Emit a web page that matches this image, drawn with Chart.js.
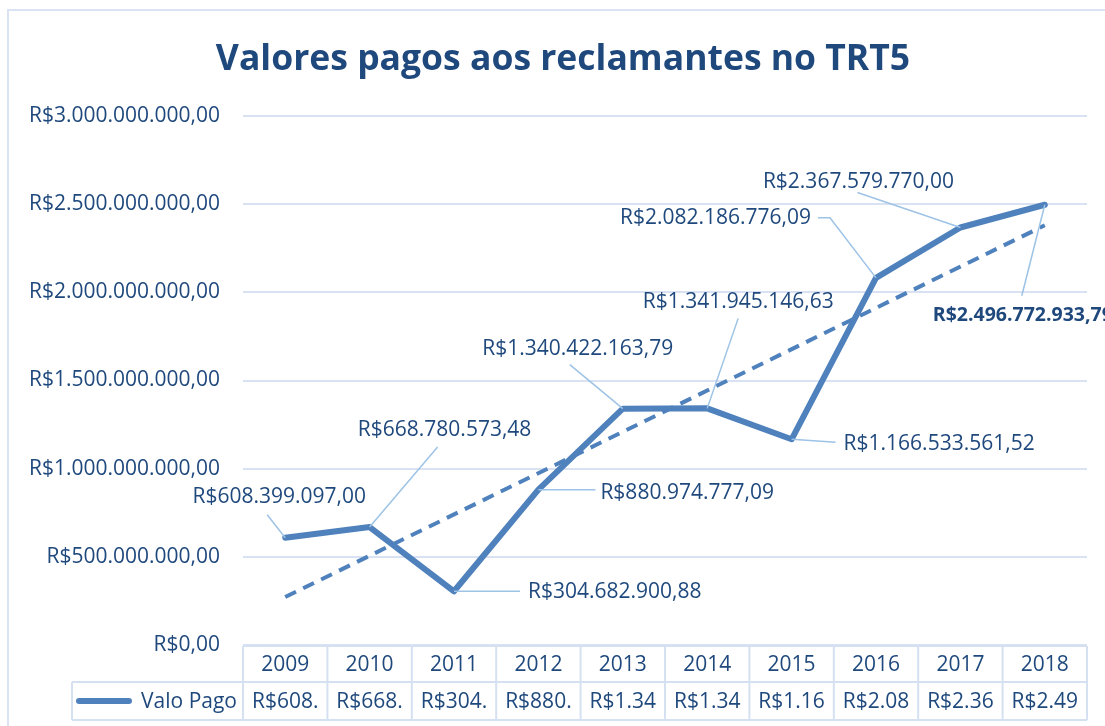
<!DOCTYPE html>
<html lang="pt-BR">
<head>
<meta charset="utf-8">
<title>Valores pagos aos reclamantes no TRT5</title>
<script src="https://cdn.jsdelivr.net/npm/chart.js@4.4.1/dist/chart.umd.min.js"></script>
<style>
    html, body { margin: 0; padding: 0; background: #ffffff; }
    #wrap { width: 1105px; height: 726px; }
</style>
</head>
<body>
<div id="wrap"><canvas id="valoresChart" width="1105" height="726"></canvas></div>
<script>
// dados
const anos = ['2009', '2010', '2011', '2012', '2013', '2014', '2015', '2016', '2017', '2018'];
const valoresPagos = [608399097.00, 668780573.48, 304682900.88, 880974777.09, 1340422163.79,
                      1341945146.63, 1166533561.52, 2082186776.09, 2367579770.00, 2496772933.79];
// linha de tendência (pontas: 2009 e 2018)
const tendencia = [272000000, 2380000000];
const eixoY = { min: 0, max: 3000000000, passo: 500000000 };
const nomeSerie = 'Valo Pago';
const titulo = 'Valores pagos aos reclamantes no TRT5';

// cores
const azulLinha = '#4f81bd';
const azulTexto = '#1f497d';
const azulGrade = '#d9e2f3';
const azulGuia = '#9dc3e6';
const fonte = "'Open Sans', 'Noto Sans', sans-serif";
const tamTexto = 21;

// formata como R$1.234.567,89
function moeda(v) {
    const partes = v.toFixed(2).split('.');
    const inteiro = partes[0].replace(/\B(?=(\d{3})+(?!\d))/g, '.');
    return 'R$' + inteiro + ',' + partes[1];
}

// serie de tendência: só as duas pontas, o resto fica vazio
const serieTendencia = anos.map(() => null);
serieTendencia[0] = tendencia[0];
serieTendencia[anos.length - 1] = tendencia[1];

// posição dos rótulos em relação ao ponto (px)
const layoutRotulos = [
    { dx: -6,   dy: -41, align: 'center', guia: [[-18, -23]] },
    { dx: 75,   dy: -97, align: 'center', guia: [[68, -80]] },
    { dx: 74,   dy: 1,   align: 'left',   guia: [[66, 0]] },
    { dx: 62,   dy: 3,   align: 'left',   guia: [[57, 0]] },
    { dx: -45,  dy: -60, align: 'center', guia: [[-53, -44]] },
    { dx: 31,   dy: -106, align: 'center', guia: [[31, -90]] },
    { dx: 52,   dy: 5,   align: 'left',   guia: [[44, 3]] },
    { dx: -65,  dy: -60, align: 'right',  guia: [[-46, -60], [-58, -60]] },
    { dx: -102, dy: -46, align: 'center', guia: [[-103, -35]] },
    { dx: -112, dy: 111, align: 'left',   guia: [[-23, 91]], negrito: true }
];

// fundo, moldura e título
const molduraPlugin = {
    id: 'moldura',
    beforeDraw(chart) {
        const ctx = chart.ctx;
        ctx.save();
        ctx.fillStyle = '#ffffff';
        ctx.fillRect(0, 0, chart.width, chart.height);
        ctx.strokeStyle = '#dae3f3';
        ctx.lineWidth = 2;
        ctx.strokeRect(8, 10, 1120, 760);
        ctx.fillStyle = azulTexto;
        ctx.font = 'bold 35.5px ' + fonte;
        ctx.textAlign = 'center';
        ctx.textBaseline = 'middle';
        ctx.fillText(titulo, 563, 60);
        ctx.restore();
    }
};

// rótulos com linhas guia
const rotulosPlugin = {
    id: 'rotulos',
    afterDatasetsDraw(chart) {
        const ctx = chart.ctx;
        const meta = chart.getDatasetMeta(0);
        ctx.save();
        meta.data.forEach((pt, i) => {
            const cfg = layoutRotulos[i];
            ctx.strokeStyle = azulGuia;
            ctx.lineWidth = 1.5;
            ctx.beginPath();
            ctx.moveTo(pt.x, pt.y);
            cfg.guia.forEach(g => ctx.lineTo(pt.x + g[0], pt.y + g[1]));
            ctx.stroke();

            ctx.fillStyle = azulTexto;
            ctx.font = cfg.negrito ? 'bold 19.5px ' + fonte : tamTexto + 'px ' + fonte;
            ctx.textAlign = cfg.align;
            ctx.textBaseline = 'middle';
            ctx.fillText(moeda(valoresPagos[i]), pt.x + cfg.dx, pt.y + cfg.dy);
        });
        ctx.restore();
    }
};

// tabela de dados embaixo do gráfico
const tabelaPlugin = {
    id: 'tabela',
    afterDraw(chart) {
        const ctx = chart.ctx;
        const area = chart.chartArea;
        const n = anos.length;
        const larg = (area.right - area.left) / n;
        const y0 = area.bottom + 1, y1 = y0 + 36, y2 = y1 + 38;
        const legEsq = 72;

        ctx.save();
        ctx.strokeStyle = '#d5e1f1';
        ctx.lineWidth = 2;
        ctx.beginPath();
        ctx.moveTo(area.left, y0); ctx.lineTo(area.right, y0);
        ctx.moveTo(legEsq, y1); ctx.lineTo(area.right, y1);
        ctx.moveTo(legEsq, y2); ctx.lineTo(area.right, y2);
        ctx.moveTo(legEsq, y1); ctx.lineTo(legEsq, y2);
        for (let i = 0; i <= n; i++) {
            const x = area.left + i * larg;
            ctx.moveTo(x, y0); ctx.lineTo(x, y2);
        }
        ctx.stroke();

        ctx.fillStyle = azulTexto;
        ctx.font = tamTexto + 'px ' + fonte;
        ctx.textAlign = 'center';
        ctx.textBaseline = 'middle';
        for (let i = 0; i < n; i++) {
            const cx = area.left + (i + 0.5) * larg;
            ctx.fillText(anos[i], cx, (y0 + y1) / 2 + 1);
            // texto cortado como no Excel
            const txt = moeda(valoresPagos[i]);
            let k = txt.length;
            while (k > 1 && ctx.measureText(txt.slice(0, k)).width > larg - 10) k--;
            ctx.fillText(txt.slice(0, k), cx, (y1 + y2) / 2 + 1);
        }

        // legenda
        ctx.strokeStyle = azulLinha;
        ctx.lineWidth = 6;
        ctx.lineCap = 'round';
        ctx.beginPath();
        ctx.moveTo(79, (y1 + y2) / 2);
        ctx.lineTo(129, (y1 + y2) / 2);
        ctx.stroke();
        ctx.textAlign = 'right';
        ctx.fillText(nomeSerie, area.left - 6, (y1 + y2) / 2 + 1);
        ctx.restore();
    }
};

const ctx = document.getElementById('valoresChart').getContext('2d');
const valoresChart = new Chart(ctx, {
    type: 'line',
    data: {
        labels: anos,
        datasets: [{
            label: nomeSerie,
            data: valoresPagos,
            borderColor: azulLinha,
            borderWidth: 6,
            pointRadius: 0,
            tension: 0,
            borderJoinStyle: 'round',
            borderCapStyle: 'round'
        }, {
            label: 'Linear (Valo Pago)',
            data: serieTendencia,
            spanGaps: true,
            borderColor: azulLinha,
            borderWidth: 4,
            borderDash: [12, 8],
            pointRadius: 0,
            tension: 0
        }]
    },
    options: {
        responsive: false,
        animation: false,
        layout: {
            padding: { top: 116, bottom: 81, right: 18, left: 0 }
        },
        plugins: {
            legend: { display: false },
            title: { display: false },
            tooltip: { enabled: false }
        },
        scales: {
            x: {
                display: false,
                offset: true
            },
            y: {
                min: eixoY.min,
                max: eixoY.max,
                afterFit(scale) { scale.width = 243; },
                border: { display: false },
                grid: {
                    color: azulGrade,
                    lineWidth: 2,
                    drawTicks: false
                },
                ticks: {
                    stepSize: eixoY.passo,
                    padding: 23,
                    color: azulTexto,
                    font: { family: fonte, size: tamTexto },
                    callback: v => moeda(v)
                }
            }
        }
    },
    plugins: [molduraPlugin, rotulosPlugin, tabelaPlugin]
});
</script>
</body>
</html>
